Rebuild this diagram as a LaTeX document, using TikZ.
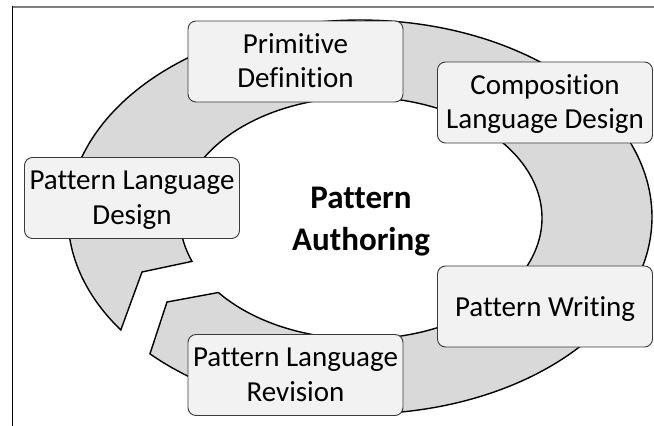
\documentclass[tikz,border=0pt]{standalone}
\usepackage{fontspec}
\setmainfont{Carlito}[Ligatures={NoCommon}]
\definecolor{ringfill}{HTML}{D9D9D9}
\definecolor{boxfill}{HTML}{F2F2F2}
\definecolor{boxline}{HTML}{3A3A3A}
\definecolor{frametop}{HTML}{7F7F7F}
\newcommand\twol[2]{\begin{tabular}[t]{@{}c@{}}#1\\#2\end{tabular}}
\begin{document}
\begin{tikzpicture}[x=1pt,y=-1pt,
  ring/.style={fill=ringfill, draw=black, line width=1.4pt, line join=miter},
  stagebox/.style={draw=boxline, fill=boxfill, rounded corners=8pt, minimum width=215pt,
    minimum height=81pt, inner sep=0pt, line width=0.9pt, font=\fontsize{29}{34.5}\selectfont},
  twoline/.style={text height=18pt, text depth=35pt},
  oneline/.style={text height=19pt, text depth=0pt},
  title/.style={anchor=base, inner sep=0pt, font=\bfseries\fontsize{33}{42}\selectfont}]
\useasboundingbox (0,0) rectangle (654,426);
% frame
\draw[frametop, line width=1.6pt] (12,7) -- (654,7);
\draw[black, line width=1pt] (12.5,6.2) -- (12.5,426);
% ring arrow
\draw[ring] plot[domain=0:351, samples=240] ({360+292*cos(136-\x)},{217+197*sin(136-\x)})
  -- (142,272)
  -- plot[domain=0:343, samples=240] ({361+181*cos(-201+\x)},{218+121*sin(-201+\x)})
  -- (167,302) -- cycle;
% stages
\node[stagebox, twoline] (pd)  at (295.5,61.5) {\twol{Primitive}{Definition}};
\node[stagebox, twoline] (cld) at (545,102.5)  {\twol{Composition}{Language Design}};
\node[stagebox, twoline] (pld) at (132,198)    {\twol{Pattern Language}{Design}};
\node[stagebox, oneline] (pw)  at (545,306.5)  {Pattern Writing};
\node[stagebox, twoline] (plr) at (295.5,375)  {\twol{Pattern Language}{Revision}};
% centre
\node[title] (pa) at (361,208) {\twol{Pattern}{Authoring}};
\end{tikzpicture}
\end{document}
